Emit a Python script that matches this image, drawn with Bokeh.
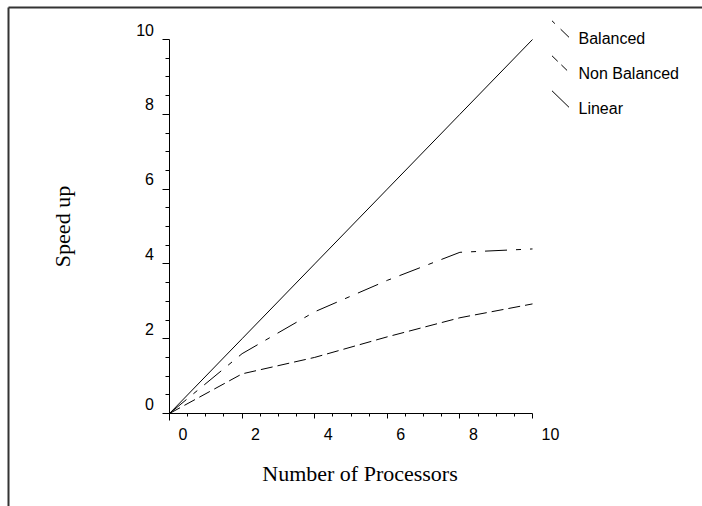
import math
from bokeh.plotting import figure
from bokeh.models import (FixedTicker, LabelSet, Label, Arrow, ColumnDataSource,
                          CustomJSTickFormatter, Range1d, LinearAxis)
from bokeh.core.properties import value
from bokeh.embed import file_html
from bokeh.resources import INLINE

# ---- data ----
processors = [0, 2, 4, 6, 8, 10]
balanced = [0, 1.60, 2.72, 3.56, 4.31, 4.40]
non_balanced = [0, 1.06, 1.50, 2.05, 2.56, 2.93]
linear = [0, 2, 4, 6, 8, 10]

x_ticks = [0, 2, 4, 6, 8, 10]
x_tick_labels = ["0", "2", "4", "6", "8", "10"]
y_ticks = [0, 2, 4, 6, 8, 10]
y_tick_labels = ["0", "2", "4", "6", "8", "10"]
minor_ticks = [0.5, 1, 1.5, 2.5, 3, 3.5, 4.5, 5, 5.5, 6.5, 7, 7.5, 8.5, 9, 9.5]

legend_labels = ["Balanced", "Non Balanced", "Linear"]
x_title = "Number of Processors"
y_title = "Speed up"

# ---- layout helpers (pixel -> data) ----
W, H = 702, 506
FX0, FX1, FY0, FY1 = 169, 532, 413, 39
def dx(px):
    return (px - FX0) / (FX1 - FX0) * 10.0
def dy(py):
    return (FY0 - py) / (FY0 - FY1) * 10.0

p = figure(width=W, height=H, x_range=Range1d(dx(0), dx(W)), y_range=Range1d(dy(H), dy(0)),
           x_axis_type=None, y_axis_type=None,
           output_backend="svg", toolbar_location=None, min_border=0)
p.grid.visible = False
p.outline_line_color = None
p.background_fill_color = "white"
p.border_fill_color = "white"

blank = CustomJSTickFormatter(code="return ''")
xaxis = LinearAxis(fixed_location=0, bounds=(0, 10), formatter=blank,
                   ticker=FixedTicker(ticks=x_ticks, minor_ticks=minor_ticks))
yaxis = LinearAxis(fixed_location=0, bounds=(0, 10), formatter=blank,
                   ticker=FixedTicker(ticks=y_ticks, minor_ticks=minor_ticks))
for ax in (xaxis, yaxis):
    ax.axis_line_color = "black"
    ax.axis_line_width = 1
    ax.major_tick_line_color = "black"
    ax.minor_tick_line_color = "black"
    ax.major_tick_in = 0
    ax.minor_tick_in = 0
    ax.major_label_standoff = 0
xaxis.major_tick_out = 5
xaxis.minor_tick_out = 3
yaxis.major_tick_out = 7
yaxis.minor_tick_out = 4
p.add_layout(xaxis, "below")
p.add_layout(yaxis, "left")

# ---- series ----
p.line(processors, linear, line_color="black", line_width=1)
p.line(processors, balanced, line_color="black", line_width=1, line_dash="22 9 5 9")
p.line(processors, non_balanced, line_color="black", line_width=1, line_dash="12 5")

# ---- tick labels ----
sans = "Liberation Sans"
serif = "Liberation Serif"
xsrc = ColumnDataSource(dict(x=x_ticks, y=[dy(439.3)] * len(x_ticks), text=x_tick_labels))
p.add_layout(LabelSet(x="x", y="y", text="text", source=xsrc, x_offset=9,
                      text_align="left", text_baseline="alphabetic",
                      text_font=value(sans), text_font_size=value("16px"),
                      text_color="black"))
ysrc = ColumnDataSource(dict(x=[dx(153.5)] * len(y_ticks), y=y_ticks, text=y_tick_labels))
p.add_layout(LabelSet(x="x", y="y", text="text", source=ysrc, y_offset=4,
                      text_align="right", text_baseline="alphabetic",
                      text_font=value(sans), text_font_size=value("16px"),
                      text_color="black"))

# ---- axis titles ----
p.add_layout(Label(x=dx(359.5), y=dy(473.3), text=x_title, text_align="center",
                   text_baseline="alphabetic", text_font=serif, text_font_size="22px",
                   text_color="black"))
p.add_layout(Label(x=dx(61.5), y=dy(226), text=y_title, angle=math.pi / 2,
                   text_align="center", text_baseline="alphabetic", text_font=serif,
                   text_font_size="22px", text_color="black"))

# ---- legend ----
leg_base = [38.3, 73.3, 108.3]
leg_dash = ["4 8 12", "8 5", "solid"]
for lab, base, dash in zip(legend_labels, leg_base, leg_dash):
    p.add_layout(Arrow(start=None, end=None, x_start=dx(551.5), y_start=dy(base - 18),
                       x_end=dx(568.5), y_end=dy(base - 1.5),
                       line_color="black", line_width=1, line_dash=dash))
    p.add_layout(Label(x=dx(578), y=dy(base), text=lab, text_align="left",
                       text_baseline="alphabetic", text_font=sans, text_font_size="16px",
                       text_color="black"))

# ---- axis stubs and page frame lines ----
p.add_layout(Arrow(start=None, end=None, x_start=dx(163), y_start=0, x_end=0, y_end=0,
                   line_color="black", line_width=1))
p.add_layout(Arrow(start=None, end=None, x_start=0, y_start=dy(420), x_end=0, y_end=0,
                   line_color="black", line_width=1))
p.add_layout(Arrow(start=None, end=None, x_start=dx(8), y_start=dy(7), x_end=dx(702), y_end=dy(7),
                   line_color="#333333", line_width=2))
p.add_layout(Arrow(start=None, end=None, x_start=dx(8), y_start=dy(7), x_end=dx(8), y_end=dy(506),
                   line_color="#333333", line_width=2))

open("out.html", "w").write(file_html(p, INLINE))
